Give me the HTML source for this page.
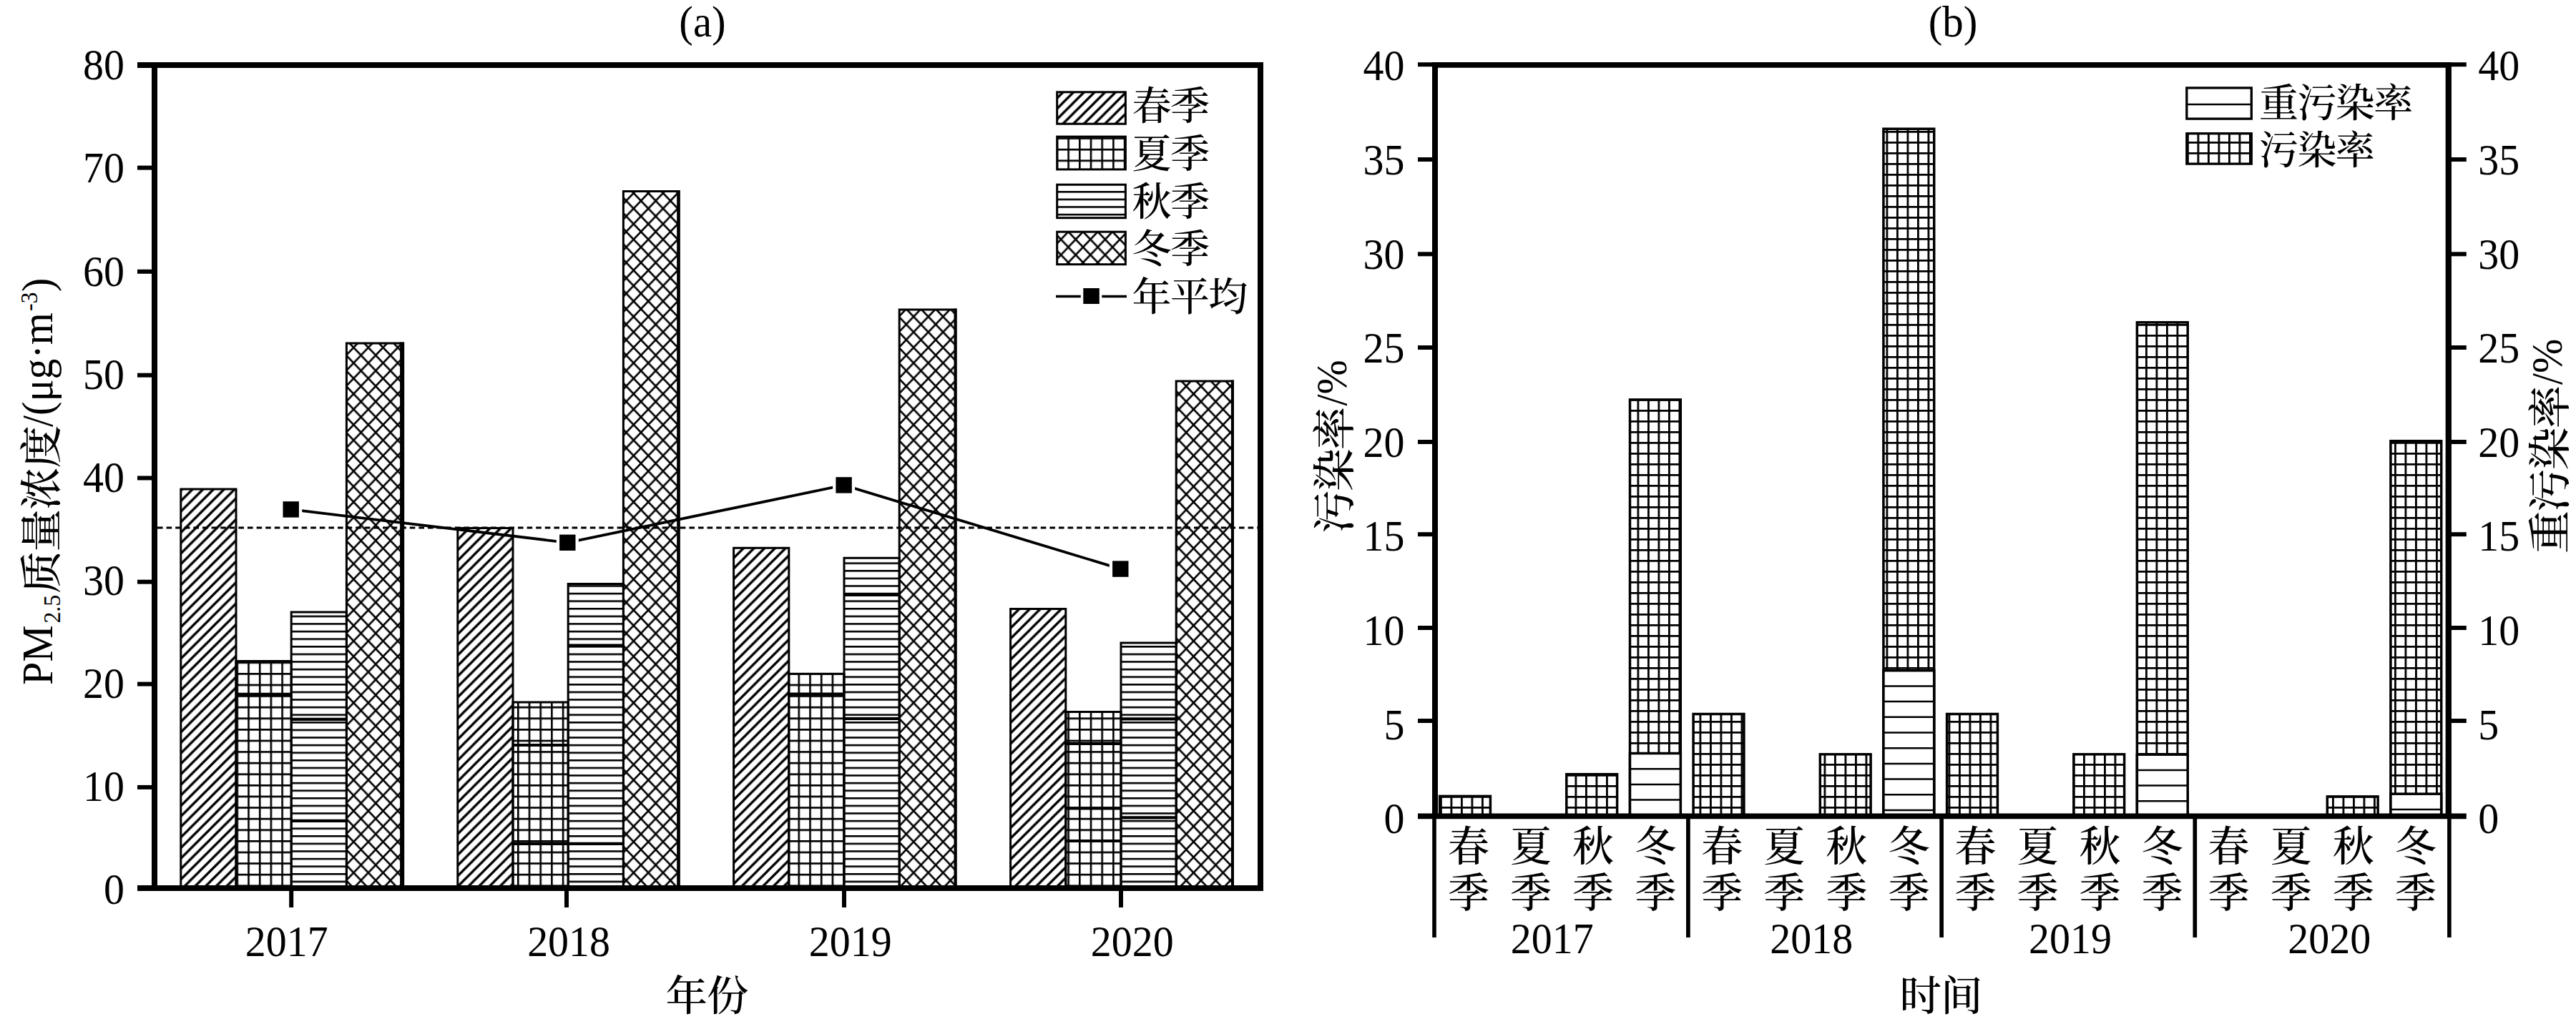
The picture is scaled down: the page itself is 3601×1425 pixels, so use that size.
<!DOCTYPE html>
<html lang="zh"><head><meta charset="utf-8"><title>PM2.5</title>
<style>html,body{margin:0;padding:0;background:#fff}body{width:3601px;height:1425px;overflow:hidden}svg{display:block}text{font-family:'Liberation Serif', 'Noto Serif CJK SC', serif;fill:#000}</style>
</head><body>
<svg width="3601" height="1425" viewBox="0 0 3601 1425">
<defs>
<pattern id="pSpring" patternUnits="userSpaceOnUse" width="14.7" height="14.7" x="0" y="12.6"><path d="M-2,16.7 L16.7,-2 M12.7,16.7 L16.7,12.7 M-2,2 L2,-2" stroke="#000" stroke-width="3.3" fill="none"/></pattern>
<pattern id="pSummer" patternUnits="userSpaceOnUse" width="15.7" height="15.6" x="330.5" y="5"><path d="M0,0 H15.7 M0,0 V15.6" stroke="#000" stroke-width="5.2" fill="none"/></pattern>
<pattern id="pAutumn" patternUnits="userSpaceOnUse" width="20" height="10.6" x="0" y="2"><path d="M0,1.3 H20" stroke="#000" stroke-width="2.6" fill="none"/></pattern>
<pattern id="pWinter" patternUnits="userSpaceOnUse" width="20.6" height="21.6" x="484" y="0"><path d="M0,0 L20.6,21.6 M20.6,0 L0,21.6" stroke="#000" stroke-width="2.6" fill="none"/></pattern>
<pattern id="pGridB" patternUnits="userSpaceOnUse" width="14.5" height="15" x="2013" y="3"><path d="M0,0 H14.5 M0,0 V15" stroke="#000" stroke-width="5.6" fill="none"/></pattern>
</defs>
<rect width="3601" height="1425" fill="#fff"/>
<g id="chartA">
<rect x="252.8" y="684.0" width="77.2" height="558.0" fill="url(#pSpring)" stroke="#000" stroke-width="3"/>
<rect x="330.0" y="924.5" width="77.2" height="317.5" fill="url(#pSummer)" stroke="#000" stroke-width="3"/>
<rect x="407.2" y="856.0" width="77.2" height="386.0" fill="url(#pAutumn)" stroke="#000" stroke-width="3"/>
<rect x="484.4" y="480.0" width="79.2" height="762.0" fill="url(#pWinter)" stroke="#000" stroke-width="3"/>
<line x1="562.1" y1="478.5" x2="562.1" y2="1242" stroke="#000" stroke-width="6"/>
<rect x="639.8" y="738.5" width="77.2" height="503.5" fill="url(#pSpring)" stroke="#000" stroke-width="3"/>
<rect x="717.0" y="982.0" width="77.2" height="260.0" fill="url(#pSummer)" stroke="#000" stroke-width="3"/>
<rect x="794.2" y="816.5" width="77.2" height="425.5" fill="url(#pAutumn)" stroke="#000" stroke-width="3"/>
<rect x="871.4" y="267.5" width="77.7" height="974.5" fill="url(#pWinter)" stroke="#000" stroke-width="3"/>
<line x1="948.4" y1="266.0" x2="948.4" y2="1242" stroke="#000" stroke-width="4.5"/>
<rect x="1025.6" y="766.3" width="77.2" height="475.7" fill="url(#pSpring)" stroke="#000" stroke-width="3"/>
<rect x="1102.8" y="942.3" width="77.2" height="299.7" fill="url(#pSummer)" stroke="#000" stroke-width="3"/>
<rect x="1180.0" y="780.3" width="77.2" height="461.7" fill="url(#pAutumn)" stroke="#000" stroke-width="3"/>
<rect x="1257.2" y="433.0" width="78.8" height="809.0" fill="url(#pWinter)" stroke="#000" stroke-width="3"/>
<line x1="1335.5" y1="431.5" x2="1335.5" y2="1242" stroke="#000" stroke-width="4"/>
<rect x="1412.6" y="851.5" width="77.2" height="390.5" fill="url(#pSpring)" stroke="#000" stroke-width="3"/>
<rect x="1489.8" y="995.5" width="77.2" height="246.5" fill="url(#pSummer)" stroke="#000" stroke-width="3"/>
<rect x="1567.0" y="899.0" width="77.2" height="343.0" fill="url(#pAutumn)" stroke="#000" stroke-width="3"/>
<rect x="1644.2" y="533.0" width="79.2" height="709.0" fill="url(#pWinter)" stroke="#000" stroke-width="3"/>
<line x1="1722.9" y1="531.5" x2="1722.9" y2="1242" stroke="#000" stroke-width="4"/>
<path d="M330.0,970.8 H407.2 M717.0,1042.0 H794.2 M717.0,1179.8 H794.2 M1102.8,970.6 H1180.0 M1489.8,1039.8 H1567.0 M1489.8,1130.5 H1567.0 M1489.8,1176.0 H1567.0 M407.2,1005.8 H484.4 M407.2,1147.8 H484.4 M794.2,902.5 H871.4 M794.2,1179.8 H871.4 M1180.0,832.0 H1257.2 M1180.0,1005.0 H1257.2 M1567.0,1005.3 H1644.2 M1567.0,1143.3 H1644.2" stroke="#000" stroke-width="4.2" fill="none"/>
<line x1="220" y1="738" x2="1758" y2="738" stroke="#000" stroke-width="3" stroke-dasharray="7.6,5"/>
<polyline points="406.7,712.4 793.3,758.8 1179.6,678.4 1566.3,795.6" fill="none" stroke="#000" stroke-width="3.8"/>
<rect x="391.2" y="698.4" width="31" height="28" fill="#fff"/>
<rect x="777.8" y="744.8" width="31" height="28" fill="#fff"/>
<rect x="1164.1" y="664.4" width="31" height="28" fill="#fff"/>
<rect x="1550.8" y="781.6" width="31" height="28" fill="#fff"/>
<rect x="395.5" y="701.2" width="22.4" height="22.4" fill="#000"/>
<rect x="782.1" y="747.6" width="22.4" height="22.4" fill="#000"/>
<rect x="1168.4" y="667.2" width="22.4" height="22.4" fill="#000"/>
<rect x="1555.1" y="784.4" width="22.4" height="22.4" fill="#000"/>
<path d="M192,91 H1762 V1242" fill="none" stroke="#000" stroke-width="8"/>
<path d="M216,91 V1242" fill="none" stroke="#000" stroke-width="8"/>
<path d="M192,1242 H1766" fill="none" stroke="#000" stroke-width="8"/>
<text transform="translate(174.0,111.3) scale(0.935,1)" font-size="62" text-anchor="end">80</text>
<line x1="192" y1="234.6" x2="216" y2="234.6" stroke="#000" stroke-width="6"/>
<text transform="translate(174.0,255.4) scale(0.935,1)" font-size="62" text-anchor="end">70</text>
<line x1="192" y1="379.8" x2="216" y2="379.8" stroke="#000" stroke-width="6"/>
<text transform="translate(174.0,399.5) scale(0.935,1)" font-size="62" text-anchor="end">60</text>
<line x1="192" y1="524.7" x2="216" y2="524.7" stroke="#000" stroke-width="6"/>
<text transform="translate(174.0,543.6) scale(0.935,1)" font-size="62" text-anchor="end">50</text>
<line x1="192" y1="668.5" x2="216" y2="668.5" stroke="#000" stroke-width="6"/>
<text transform="translate(174.0,687.7) scale(0.935,1)" font-size="62" text-anchor="end">40</text>
<line x1="192" y1="813.7" x2="216" y2="813.7" stroke="#000" stroke-width="6"/>
<text transform="translate(174.0,831.8) scale(0.935,1)" font-size="62" text-anchor="end">30</text>
<line x1="192" y1="956.6" x2="216" y2="956.6" stroke="#000" stroke-width="6"/>
<text transform="translate(174.0,975.9) scale(0.935,1)" font-size="62" text-anchor="end">20</text>
<line x1="192" y1="1100.9" x2="216" y2="1100.9" stroke="#000" stroke-width="6"/>
<text transform="translate(174.0,1120.0) scale(0.935,1)" font-size="62" text-anchor="end">10</text>
<text transform="translate(174.0,1264.1) scale(0.935,1)" font-size="62" text-anchor="end">0</text>
<line x1="407.2" y1="1242" x2="407.2" y2="1269" stroke="#000" stroke-width="6"/>
<text transform="translate(400.7,1337.0) scale(0.935,1)" font-size="62" text-anchor="middle">2017</text>
<line x1="792.0" y1="1242" x2="792.0" y2="1269" stroke="#000" stroke-width="6"/>
<text transform="translate(795.1,1337.0) scale(0.935,1)" font-size="62" text-anchor="middle">2018</text>
<line x1="1180.0" y1="1242" x2="1180.0" y2="1269" stroke="#000" stroke-width="6"/>
<text transform="translate(1188.7,1337.0) scale(0.935,1)" font-size="62" text-anchor="middle">2019</text>
<line x1="1567.0" y1="1242" x2="1567.0" y2="1269" stroke="#000" stroke-width="6"/>
<text transform="translate(1582.8,1337.0) scale(0.935,1)" font-size="62" text-anchor="middle">2020</text>
<text transform="translate(982.0,50.5) scale(0.95,1)" font-size="62" text-anchor="middle">(a)</text>
<text transform="translate(987.9,1413.0)" font-size="58.5" letter-spacing="-1" font-weight="500" text-anchor="middle">年份</text>
<g transform="translate(72.7,958) rotate(-90) scale(0.935,1)">
<text x="0" y="0" font-size="62">PM</text>
<text x="92.5" y="10.8" font-size="34">2.5</text>
<text x="386.1" y="0" font-size="62">/(μg·m</text>
<text x="559.4" y="-20.5" font-size="34">-3</text>
<text x="588.2" y="0" font-size="62">)</text>
</g>
<text transform="translate(78.5,830.0) rotate(-90)" font-size="59.5" letter-spacing="-1" font-weight="500" text-anchor="start">质量浓度</text>
<rect x="1477.7" y="128.8" width="95.7" height="44.4" fill="url(#pSpring)" stroke="#000" stroke-width="3"/>
<text transform="translate(1582.5,167.0)" font-size="55" letter-spacing="-1.6" font-weight="500" text-anchor="start">春季</text>
<rect x="1477.7" y="191.1" width="95.7" height="45.8" fill="url(#pSummer)" stroke="#000" stroke-width="3"/>
<text transform="translate(1582.5,233.8)" font-size="55" letter-spacing="-1.6" font-weight="500" text-anchor="start">夏季</text>
<rect x="1477.7" y="258.2" width="95.7" height="46.5" fill="url(#pAutumn)" stroke="#000" stroke-width="3"/>
<text transform="translate(1582.5,300.6)" font-size="55" letter-spacing="-1.6" font-weight="500" text-anchor="start">秋季</text>
<rect x="1477.7" y="324.2" width="95.7" height="45.5" fill="url(#pWinter)" stroke="#000" stroke-width="3"/>
<text transform="translate(1582.5,367.4)" font-size="55" letter-spacing="-1.6" font-weight="500" text-anchor="start">冬季</text>
<line x1="1476" y1="414.5" x2="1575" y2="414.5" stroke="#000" stroke-width="3.5"/>
<rect x="1510.8" y="400" width="29.5" height="30" fill="#fff"/>
<rect x="1514.3" y="403" width="22.5" height="22" fill="#000"/>
<text transform="translate(1582.5,434.2)" font-size="55" letter-spacing="-1.6" font-weight="500" text-anchor="start">年平均</text>
</g>
<g id="chartB">
<rect x="2012.6" y="1113.4" width="70.8" height="28.0" fill="url(#pGridB)" stroke="#000" stroke-width="3.5"/>
<text transform="translate(2053.0,1204.0)" font-size="58" letter-spacing="0" font-weight="500" text-anchor="middle">春</text>
<text transform="translate(2053.0,1269.0)" font-size="58" letter-spacing="0" font-weight="500" text-anchor="middle">季</text>
<text transform="translate(2140.1,1204.0)" font-size="58" letter-spacing="0" font-weight="500" text-anchor="middle">夏</text>
<text transform="translate(2140.1,1269.0)" font-size="58" letter-spacing="0" font-weight="500" text-anchor="middle">季</text>
<rect x="2189.8" y="1082.7" width="70.8" height="58.7" fill="url(#pGridB)" stroke="#000" stroke-width="3.5"/>
<text transform="translate(2227.1,1204.0)" font-size="58" letter-spacing="0" font-weight="500" text-anchor="middle">秋</text>
<text transform="translate(2227.1,1269.0)" font-size="58" letter-spacing="0" font-weight="500" text-anchor="middle">季</text>
<rect x="2278.5" y="558.9" width="70.8" height="582.5" fill="url(#pGridB)" stroke="#000" stroke-width="3.5"/>
<rect x="2278.5" y="1053.5" width="70.8" height="87.9" fill="#fff" stroke="#000" stroke-width="3.5"/>
<path d="M2278.5,1075.2 H2349.3 M2278.5,1096.9 H2349.3 M2278.5,1118.6 H2349.3" stroke="#000" stroke-width="2.5" fill="none"/>
<text transform="translate(2314.2,1204.0)" font-size="58" letter-spacing="0" font-weight="500" text-anchor="middle">冬</text>
<text transform="translate(2314.2,1269.0)" font-size="58" letter-spacing="0" font-weight="500" text-anchor="middle">季</text>
<text transform="translate(2169.7,1333.0) scale(0.935,1)" font-size="62" text-anchor="middle">2017</text>
<rect x="2367.1" y="998.5" width="70.8" height="142.9" fill="url(#pGridB)" stroke="#000" stroke-width="3.5"/>
<text transform="translate(2407.2,1204.0)" font-size="58" letter-spacing="0" font-weight="500" text-anchor="middle">春</text>
<text transform="translate(2407.2,1269.0)" font-size="58" letter-spacing="0" font-weight="500" text-anchor="middle">季</text>
<text transform="translate(2494.3,1204.0)" font-size="58" letter-spacing="0" font-weight="500" text-anchor="middle">夏</text>
<text transform="translate(2494.3,1269.0)" font-size="58" letter-spacing="0" font-weight="500" text-anchor="middle">季</text>
<rect x="2544.3" y="1054.8" width="70.8" height="86.6" fill="url(#pGridB)" stroke="#000" stroke-width="3.5"/>
<text transform="translate(2581.3,1204.0)" font-size="58" letter-spacing="0" font-weight="500" text-anchor="middle">秋</text>
<text transform="translate(2581.3,1269.0)" font-size="58" letter-spacing="0" font-weight="500" text-anchor="middle">季</text>
<rect x="2632.9" y="180.2" width="70.8" height="961.2" fill="url(#pGridB)" stroke="#000" stroke-width="3.5"/>
<rect x="2632.9" y="937.7" width="70.8" height="203.7" fill="#fff" stroke="#000" stroke-width="3.5"/>
<path d="M2632.9,959.4 H2703.7 M2632.9,981.1 H2703.7 M2632.9,1002.8 H2703.7 M2632.9,1024.5 H2703.7 M2632.9,1046.2 H2703.7 M2632.9,1067.9 H2703.7 M2632.9,1089.6 H2703.7 M2632.9,1111.3 H2703.7 M2632.9,1133.0 H2703.7" stroke="#000" stroke-width="2.5" fill="none"/>
<text transform="translate(2668.4,1204.0)" font-size="58" letter-spacing="0" font-weight="500" text-anchor="middle">冬</text>
<text transform="translate(2668.4,1269.0)" font-size="58" letter-spacing="0" font-weight="500" text-anchor="middle">季</text>
<text transform="translate(2532.2,1333.0) scale(0.935,1)" font-size="62" text-anchor="middle">2018</text>
<rect x="2721.6" y="998.5" width="70.8" height="142.9" fill="url(#pGridB)" stroke="#000" stroke-width="3.5"/>
<text transform="translate(2761.4,1204.0)" font-size="58" letter-spacing="0" font-weight="500" text-anchor="middle">春</text>
<text transform="translate(2761.4,1269.0)" font-size="58" letter-spacing="0" font-weight="500" text-anchor="middle">季</text>
<text transform="translate(2848.5,1204.0)" font-size="58" letter-spacing="0" font-weight="500" text-anchor="middle">夏</text>
<text transform="translate(2848.5,1269.0)" font-size="58" letter-spacing="0" font-weight="500" text-anchor="middle">季</text>
<rect x="2898.8" y="1054.8" width="70.8" height="86.6" fill="url(#pGridB)" stroke="#000" stroke-width="3.5"/>
<text transform="translate(2935.5,1204.0)" font-size="58" letter-spacing="0" font-weight="500" text-anchor="middle">秋</text>
<text transform="translate(2935.5,1269.0)" font-size="58" letter-spacing="0" font-weight="500" text-anchor="middle">季</text>
<rect x="2987.4" y="450.8" width="70.8" height="690.6" fill="url(#pGridB)" stroke="#000" stroke-width="3.5"/>
<rect x="2987.4" y="1055.2" width="70.8" height="86.2" fill="#fff" stroke="#000" stroke-width="3.5"/>
<path d="M2987.4,1076.9 H3058.2 M2987.4,1098.6 H3058.2 M2987.4,1120.3 H3058.2" stroke="#000" stroke-width="2.5" fill="none"/>
<text transform="translate(3022.6,1204.0)" font-size="58" letter-spacing="0" font-weight="500" text-anchor="middle">冬</text>
<text transform="translate(3022.6,1269.0)" font-size="58" letter-spacing="0" font-weight="500" text-anchor="middle">季</text>
<text transform="translate(2894.0,1333.0) scale(0.935,1)" font-size="62" text-anchor="middle">2019</text>
<text transform="translate(3115.6,1204.0)" font-size="58" letter-spacing="0" font-weight="500" text-anchor="middle">春</text>
<text transform="translate(3115.6,1269.0)" font-size="58" letter-spacing="0" font-weight="500" text-anchor="middle">季</text>
<text transform="translate(3202.7,1204.0)" font-size="58" letter-spacing="0" font-weight="500" text-anchor="middle">夏</text>
<text transform="translate(3202.7,1269.0)" font-size="58" letter-spacing="0" font-weight="500" text-anchor="middle">季</text>
<rect x="3253.3" y="1113.9" width="70.8" height="27.5" fill="url(#pGridB)" stroke="#000" stroke-width="3.5"/>
<text transform="translate(3289.7,1204.0)" font-size="58" letter-spacing="0" font-weight="500" text-anchor="middle">秋</text>
<text transform="translate(3289.7,1269.0)" font-size="58" letter-spacing="0" font-weight="500" text-anchor="middle">季</text>
<rect x="3341.9" y="616.7" width="70.8" height="524.7" fill="url(#pGridB)" stroke="#000" stroke-width="3.5"/>
<rect x="3341.9" y="1110.2" width="70.8" height="31.2" fill="#fff" stroke="#000" stroke-width="3.5"/>
<path d="M3341.9,1131.9 H3412.7" stroke="#000" stroke-width="2.5" fill="none"/>
<text transform="translate(3376.8,1204.0)" font-size="58" letter-spacing="0" font-weight="500" text-anchor="middle">冬</text>
<text transform="translate(3376.8,1269.0)" font-size="58" letter-spacing="0" font-weight="500" text-anchor="middle">季</text>
<text transform="translate(3256.2,1333.0) scale(0.935,1)" font-size="62" text-anchor="middle">2020</text>
<path d="M2002.0,90.9 H3426.8" fill="none" stroke="#000" stroke-width="7.8"/>
<path d="M1982.0,1141.4 H3447.8" fill="none" stroke="#000" stroke-width="7.6"/>
<path d="M2006.0,90.9 V1141.4" fill="none" stroke="#000" stroke-width="8"/>
<path d="M3422.8,90.9 V1141.4" fill="none" stroke="#000" stroke-width="8.3"/>
<path d="M2005,1141.4 V1311 M3423.9,1141.4 V1311" fill="none" stroke="#000" stroke-width="5.6"/>
<line x1="2359.9" y1="1141.4" x2="2359.9" y2="1311" stroke="#000" stroke-width="5.7"/>
<line x1="2714.1" y1="1141.4" x2="2714.1" y2="1311" stroke="#000" stroke-width="5.7"/>
<line x1="3068.3" y1="1141.4" x2="3068.3" y2="1311" stroke="#000" stroke-width="5.7"/>
<line x1="1982" y1="90.2" x2="2006" y2="90.2" stroke="#000" stroke-width="6"/>
<line x1="3422.8" y1="90.2" x2="3447.8" y2="90.2" stroke="#000" stroke-width="6"/>
<text transform="translate(1963.5,112.3) scale(0.935,1)" font-size="62" text-anchor="end">40</text>
<text transform="translate(3464.3,112.3) scale(0.935,1)" font-size="62" text-anchor="start">40</text>
<line x1="1982" y1="223.0" x2="2006" y2="223.0" stroke="#000" stroke-width="6"/>
<line x1="3422.8" y1="223.0" x2="3447.8" y2="223.0" stroke="#000" stroke-width="6"/>
<text transform="translate(1963.5,243.9) scale(0.935,1)" font-size="62" text-anchor="end">35</text>
<text transform="translate(3464.3,243.9) scale(0.935,1)" font-size="62" text-anchor="start">35</text>
<line x1="1982" y1="355.3" x2="2006" y2="355.3" stroke="#000" stroke-width="6"/>
<line x1="3422.8" y1="355.3" x2="3447.8" y2="355.3" stroke="#000" stroke-width="6"/>
<text transform="translate(1963.5,375.5) scale(0.935,1)" font-size="62" text-anchor="end">30</text>
<text transform="translate(3464.3,375.5) scale(0.935,1)" font-size="62" text-anchor="start">30</text>
<line x1="1982" y1="486.0" x2="2006" y2="486.0" stroke="#000" stroke-width="6"/>
<line x1="3422.8" y1="486.0" x2="3447.8" y2="486.0" stroke="#000" stroke-width="6"/>
<text transform="translate(1963.5,507.1) scale(0.935,1)" font-size="62" text-anchor="end">25</text>
<text transform="translate(3464.3,507.1) scale(0.935,1)" font-size="62" text-anchor="start">25</text>
<line x1="1982" y1="618.0" x2="2006" y2="618.0" stroke="#000" stroke-width="6"/>
<line x1="3422.8" y1="618.0" x2="3447.8" y2="618.0" stroke="#000" stroke-width="6"/>
<text transform="translate(1963.5,638.7) scale(0.935,1)" font-size="62" text-anchor="end">20</text>
<text transform="translate(3464.3,638.7) scale(0.935,1)" font-size="62" text-anchor="start">20</text>
<line x1="1982" y1="747.2" x2="2006" y2="747.2" stroke="#000" stroke-width="6"/>
<line x1="3422.8" y1="747.2" x2="3447.8" y2="747.2" stroke="#000" stroke-width="6"/>
<text transform="translate(1963.5,770.3) scale(0.935,1)" font-size="62" text-anchor="end">15</text>
<text transform="translate(3464.3,770.3) scale(0.935,1)" font-size="62" text-anchor="start">15</text>
<line x1="1982" y1="878.0" x2="2006" y2="878.0" stroke="#000" stroke-width="6"/>
<line x1="3422.8" y1="878.0" x2="3447.8" y2="878.0" stroke="#000" stroke-width="6"/>
<text transform="translate(1963.5,901.9) scale(0.935,1)" font-size="62" text-anchor="end">10</text>
<text transform="translate(3464.3,901.9) scale(0.935,1)" font-size="62" text-anchor="start">10</text>
<line x1="1982" y1="1008.0" x2="2006" y2="1008.0" stroke="#000" stroke-width="6"/>
<line x1="3422.8" y1="1008.0" x2="3447.8" y2="1008.0" stroke="#000" stroke-width="6"/>
<text transform="translate(1963.5,1033.5) scale(0.935,1)" font-size="62" text-anchor="end">5</text>
<text transform="translate(3464.3,1033.5) scale(0.935,1)" font-size="62" text-anchor="start">5</text>
<text transform="translate(1963.5,1165.1) scale(0.935,1)" font-size="62" text-anchor="end">0</text>
<text transform="translate(3464.3,1165.1) scale(0.935,1)" font-size="62" text-anchor="start">0</text>
<text transform="translate(2730.0,50.5) scale(0.95,1)" font-size="62" text-anchor="middle">(b)</text>
<text transform="translate(2712.9,1413.0)" font-size="58.5" letter-spacing="-1" font-weight="500" text-anchor="middle">时间</text>
<text transform="translate(1886.5,745.5) rotate(-90)" font-size="60" letter-spacing="-1.7" font-weight="500" text-anchor="start">污染率</text>
<text transform="translate(1882.0,567.5) rotate(-90) scale(0.935,1)" font-size="62" text-anchor="start">/%</text>
<text transform="translate(3586.0,774.0) rotate(-90)" font-size="60" letter-spacing="-1.7" font-weight="500" text-anchor="start">重污染率</text>
<text transform="translate(3580.8,538.0) rotate(-90) scale(0.935,1)" font-size="62" text-anchor="start">/%</text>
<rect x="3056.8" y="122.9" width="90.5" height="43.2" fill="#fff" stroke="#000" stroke-width="3.3"/>
<line x1="3057" y1="146" x2="3147" y2="146" stroke="#000" stroke-width="2.4"/>
<rect x="3056.8" y="186.7" width="90.5" height="42.4" fill="url(#pGridB)" stroke="#000" stroke-width="3.3"/>
<text transform="translate(3158.0,162.5)" font-size="55" letter-spacing="-1.6" font-weight="500" text-anchor="start">重污染率</text>
<text transform="translate(3158.0,228.5)" font-size="55" letter-spacing="-1.6" font-weight="500" text-anchor="start">污染率</text>
</g>
</svg></body></html>
